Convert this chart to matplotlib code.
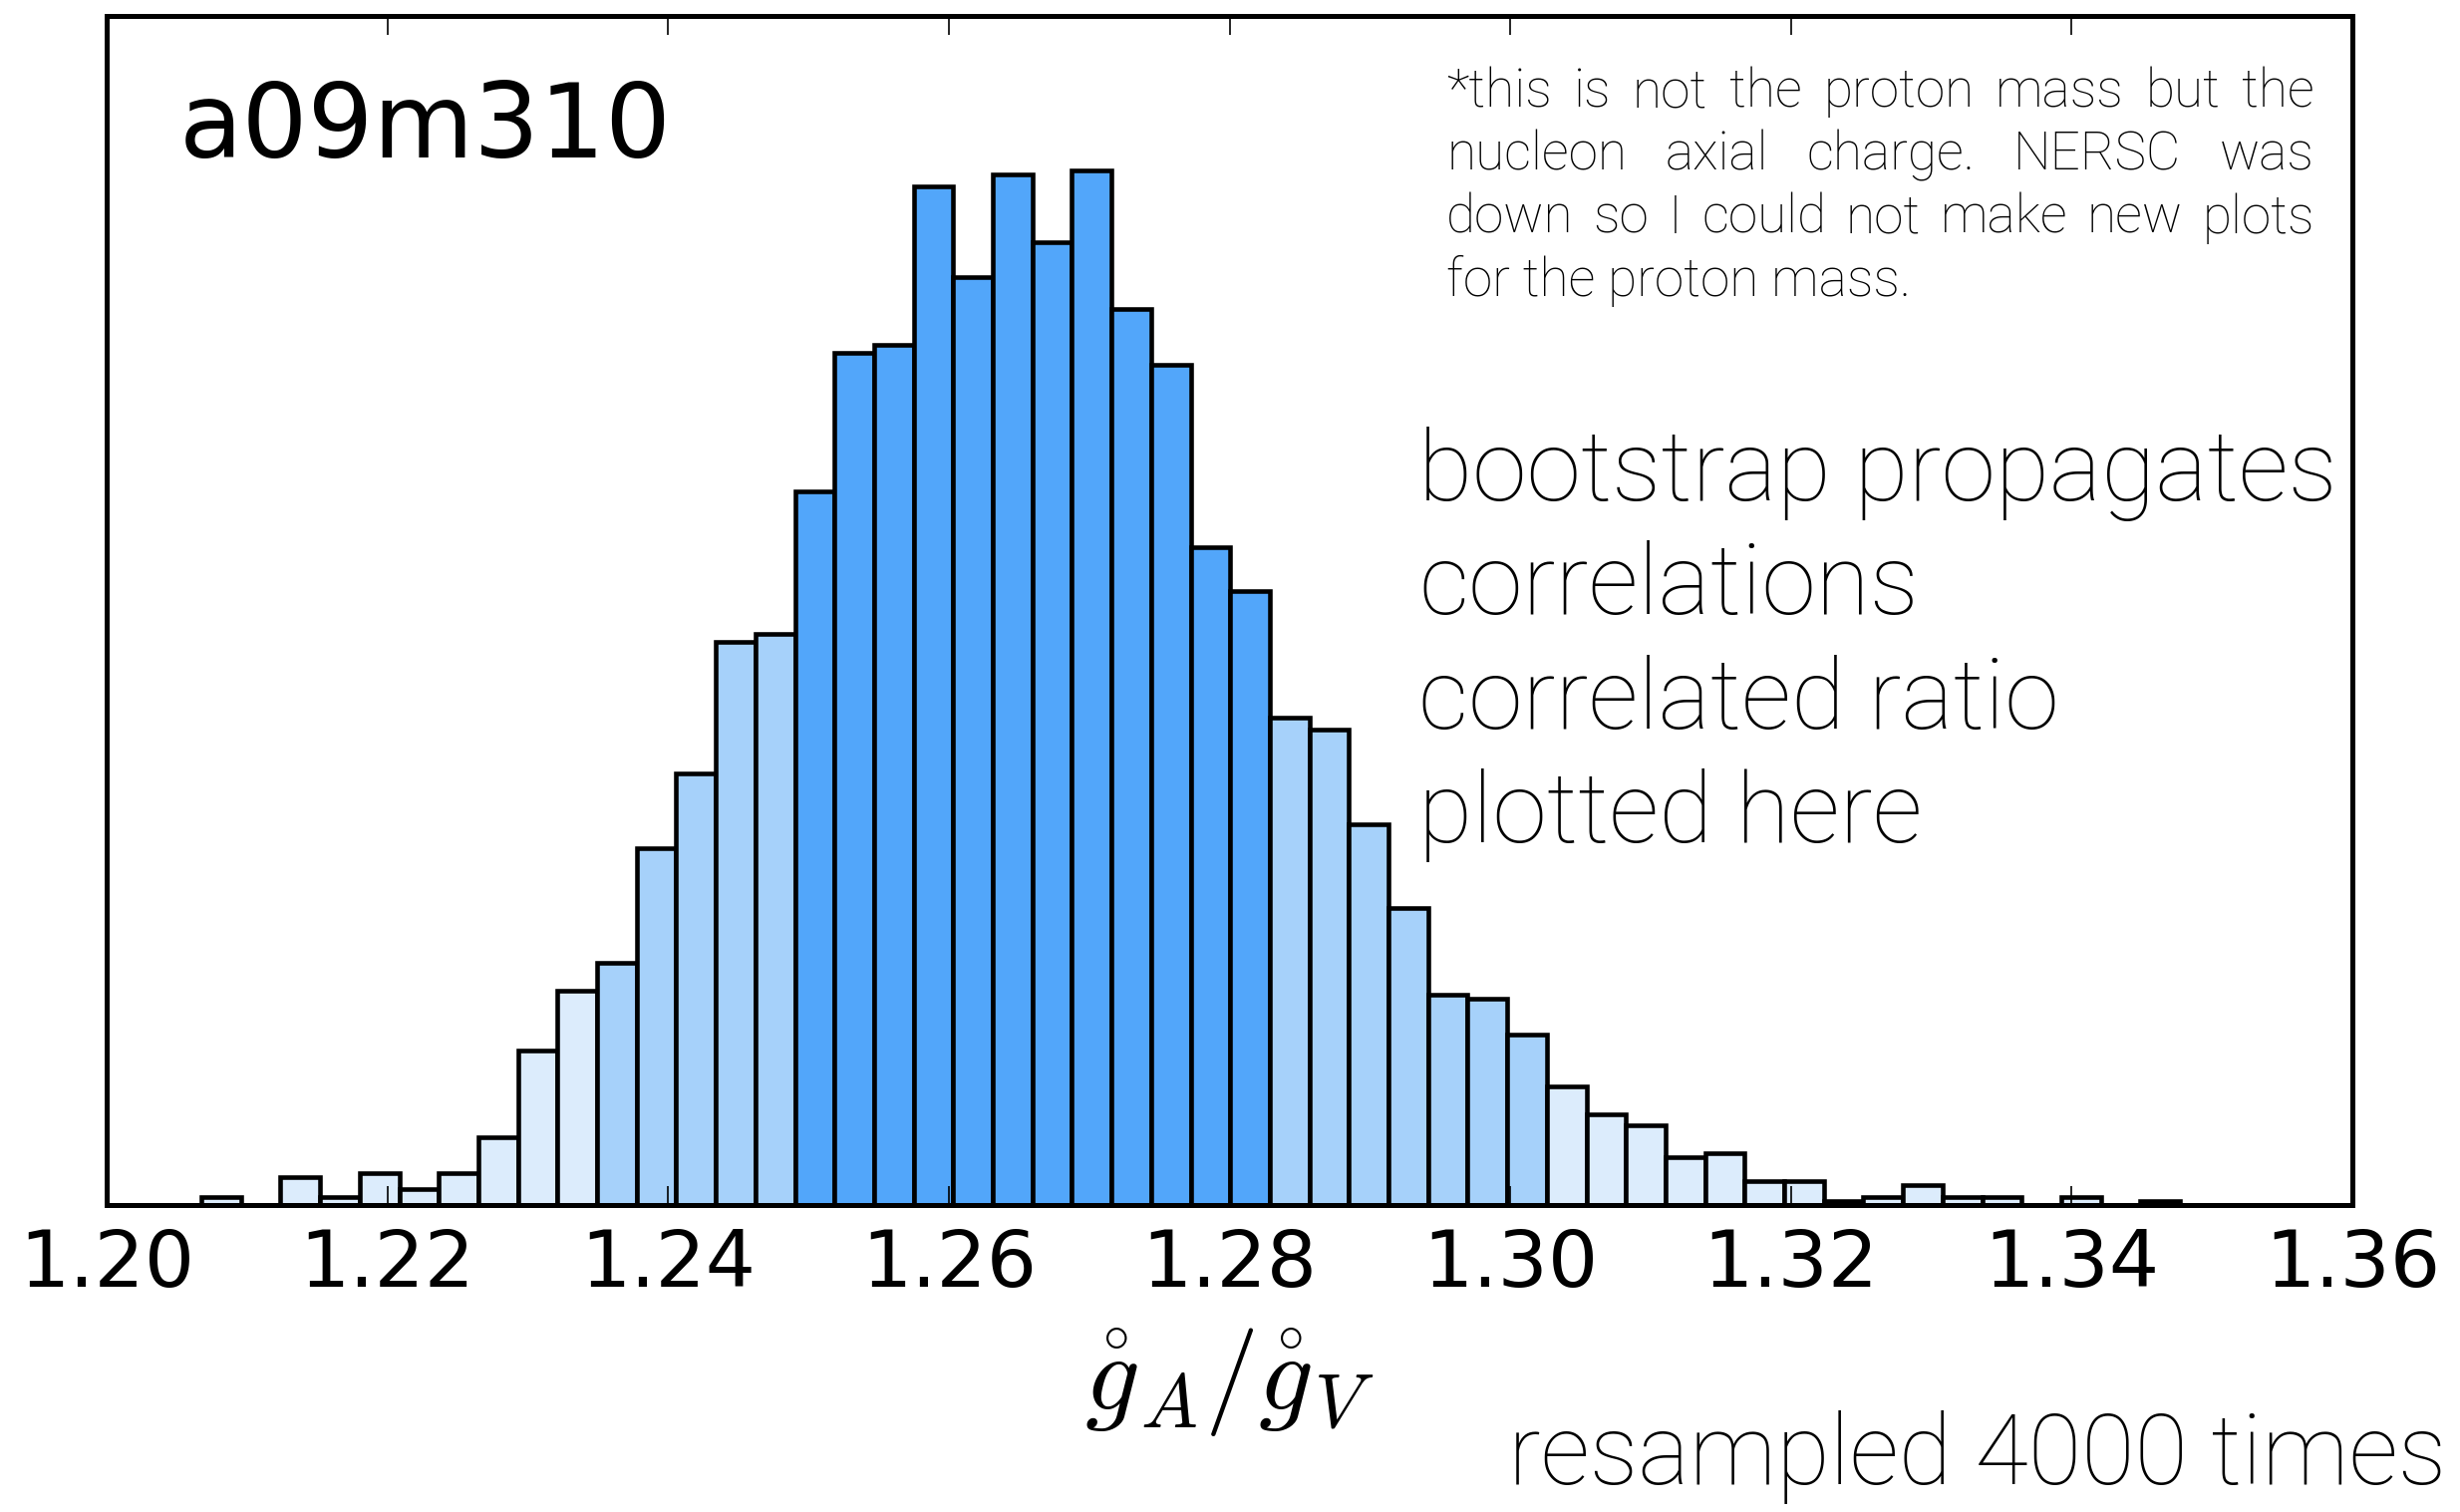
#!/usr/bin/env python3
import numpy as np
import matplotlib
matplotlib.use("Agg")
from matplotlib import pyplot as plt

# bootstrap distribution of gA/gV on a09m310, 50 equal bins
bin_lo, bin_hi = 1.20675, 1.34772
counts = [2, 0, 7, 2, 8, 4, 8, 17, 39, 54,
          61, 90, 109, 142, 144,
          180, 215, 217, 257, 234, 260, 243, 261, 226, 212, 166, 155,
          123, 120, 96, 75, 53, 52, 43,
          30, 23, 20, 12, 13, 6, 6, 1, 2, 5, 2, 2, 0, 2, 0, 1]
# bin index ranges shaded as the 68% and 95% regions
one_sigma = (15, 27)
two_sigma = (10, 34)

xticks = [1.20, 1.22, 1.24, 1.26, 1.28, 1.30, 1.32, 1.34, 1.36]
xtick_labels = ["1.20", "1.22", "1.24", "1.26", "1.28", "1.30", "1.32", "1.34", "1.36"]
ensemble = "a09m310"
note_lines = ["*this is not the proton mass but the",
              "nucleon axial charge. NERSC was",
              "down so I could not make new plots",
              "for the proton mass."]
comment_lines = ["bootstrap propagates", "correlations",
                 "correlated ratio", "plotted here"]
footer = "resampled 4000 times"

dark, mid, light = "#52a6fa", "#a6d1fa", "#dcecfc"
sans = ["Roboto", "DejaVu Sans"]

plt.rcParams['mathtext.fontset'] = 'cm'
plt.rcParams['axes.linewidth'] = 3.6

W, H = 2468, 1517
fig = plt.figure(figsize=(W / 100, H / 100), dpi=100)
ax = fig.add_axes([107 / W, 1 - 1209 / H, (2360 - 107) / W, (1209 - 16) / H])

edges = np.linspace(bin_lo, bin_hi, len(counts) + 1)
colors = []
for i in range(len(counts)):
    if one_sigma[0] <= i < one_sigma[1]:
        colors.append(dark)
    elif two_sigma[0] <= i < two_sigma[1]:
        colors.append(mid)
    else:
        colors.append(light)
ax.bar(edges[:-1], counts, width=np.diff(edges), align='edge',
       color=colors, edgecolor='black', linewidth=3.3)

ax.set_xlim(1.20, 1.36)
ax.set_ylim(0, 300)
ax.set_xticks(xticks)
ax.set_xticklabels(xtick_labels)
ax.set_yticks([])
ax.tick_params(axis='x', direction='in', length=13.5, width=1.2,
               top=True, bottom=True, labelsize=57, pad=16)
ax.set_xlabel(r"$\mathring{g}_A/\mathring{g}_V$", fontsize=78, labelpad=17)

fig.canvas.draw()
renderer = fig.canvas.get_renderer()


def put(s, x, y, size, **kw):
    # x, y in pixels from top-left, y at the baseline
    return fig.text(x / W, 1 - y / H, s, fontsize=size, va='baseline', **kw)


def fit_size(s, width, **kw):
    t = put(s, 0, 0, 50, **kw)
    w = t.get_window_extent(renderer).width
    t.remove()
    return 50 * width / w


def justified(line, x0, x1, y, size, **kw):
    words = line.split()
    ts = [put(w, x0, y, size, **kw) for w in words]
    widths = [t.get_window_extent(renderer).width for t in ts]
    gap = (x1 - x0 - sum(widths)) / max(len(words) - 1, 1)
    x = x0
    for t, w in zip(ts, widths):
        t.set_x(x / W)
        x += w + gap


put(ensemble, 180, 158, 74.6, family="DejaVu Sans")

note_size = fit_size(note_lines[-1], 466, family=sans, weight='light')
for k, line in enumerate(note_lines):
    y = 107 + 63.4 * k
    if k < len(note_lines) - 1:
        justified(line, 1451, 2322, y, note_size, family=sans, weight='light')
    else:
        put(line, 1451, y, note_size, family=sans, weight='light')

big = fit_size(comment_lines[0], 922, family=sans, weight='light')
for k, line in enumerate(comment_lines):
    put(line, 1423, 502 + 114.3 * k, big, family=sans, weight='light')

# keep the descenders of the footer inside the figure
put(footer, 1513, 1489, fit_size(footer, 943, family=sans, weight='light'),
    family=sans, weight='light')

fig.savefig("out.png", dpi=100)
